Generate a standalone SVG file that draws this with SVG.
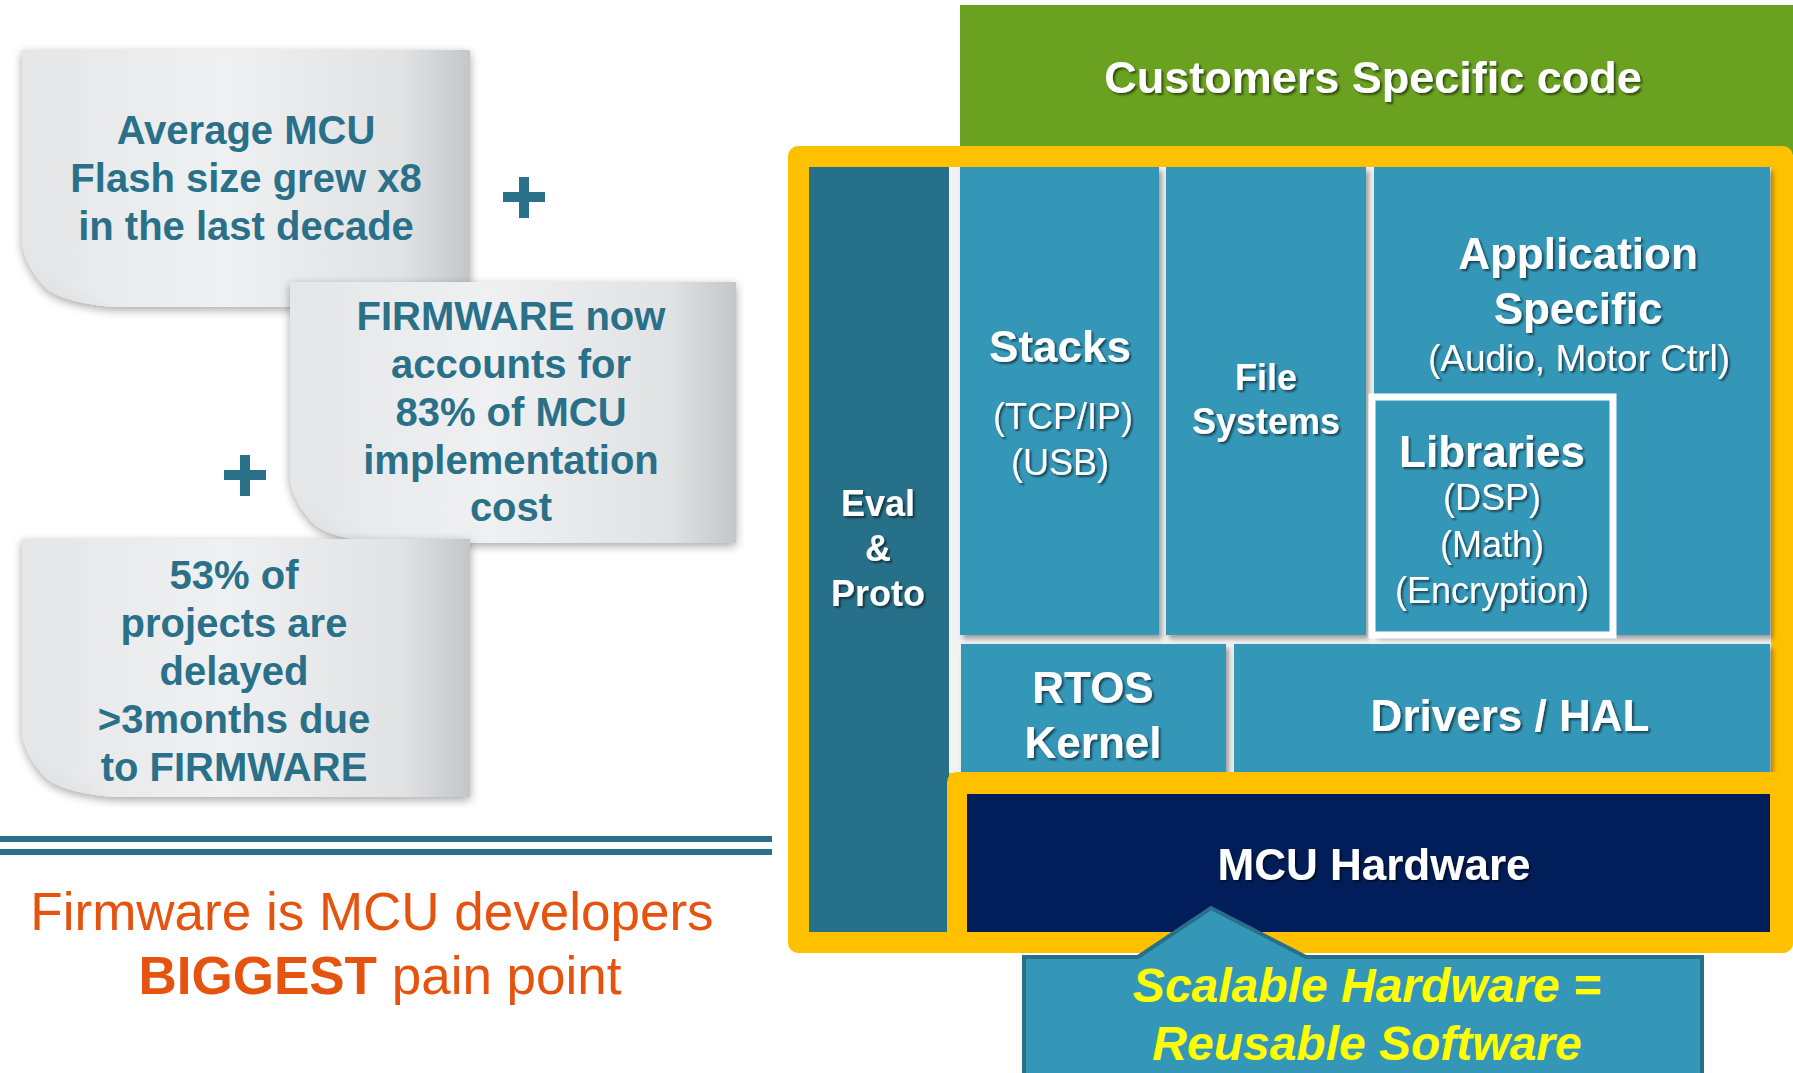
<svg xmlns="http://www.w3.org/2000/svg" width="1793" height="1073" viewBox="0 0 1793 1073">
<defs>
<linearGradient id="paper" x1="0" y1="0" x2="1" y2="0">
<stop offset="0" stop-color="#e4e6e8"/>
<stop offset="0.45" stop-color="#eef0f1"/>
<stop offset="0.85" stop-color="#e0e2e4"/>
<stop offset="1" stop-color="#c4c7ca"/>
</linearGradient>
<linearGradient id="curl" x1="0" y1="1" x2="0.6" y2="0.3">
<stop offset="0" stop-color="#cfd3d6"/>
<stop offset="1" stop-color="#eceef0" stop-opacity="0"/>
</linearGradient>
<filter id="noteShadow" x="-10%" y="-10%" width="120%" height="125%">
<feDropShadow dx="0" dy="3" stdDeviation="5" flood-color="#000" flood-opacity="0.35"/>
</filter>
<filter id="cellShadow" x="-5%" y="-5%" width="115%" height="115%">
<feDropShadow dx="3" dy="4" stdDeviation="2.5" flood-color="#000" flood-opacity="0.35"/>
</filter>
<filter id="txtShadow" x="-10%" y="-20%" width="120%" height="150%">
<feDropShadow dx="2" dy="2" stdDeviation="1.2" flood-color="#000" flood-opacity="0.55"/>
</filter>
<style>
.note{fill:url(#paper);filter:url(#noteShadow)}
.ntxt{font-family:"Liberation Sans",Arial,sans-serif;font-weight:bold;font-size:40px;fill:#2a7088;text-anchor:middle}
.plus{fill:#2a7088}
.cell{fill:#3597b8;filter:url(#cellShadow)}
.wb{font-family:"Liberation Sans",Arial,sans-serif;font-weight:bold;fill:#fff;text-anchor:middle;filter:url(#txtShadow)}
.wr{font-family:"Liberation Sans",Arial,sans-serif;font-weight:normal;fill:#fff;text-anchor:middle;filter:url(#txtShadow)}
.or{font-family:"Liberation Sans",Arial,sans-serif;fill:#e5530f;text-anchor:middle;font-size:53px}
.yl{font-family:"Liberation Sans",Arial,sans-serif;font-weight:bold;font-style:italic;fill:#ffff00;text-anchor:middle;font-size:48px}
</style>
</defs>
<rect width="1793" height="1073" fill="#fff"/>

<!-- Left side: sticky notes -->
<g id="note1">
<path class="note" d="M22,50 H470 V307 H115 C78,304 56,297 46,288 C33,275 25,260 22,244 Z"/>
<path d="M22,244 C25,260 33,275 46,288 C56,297 78,304 115,307 C80,290 48,270 22,244 Z" fill="url(#curl)"/>
<text class="ntxt" x="246" y="144">Average MCU</text>
<text class="ntxt" x="246" y="192">Flash size grew x8</text>
<text class="ntxt" x="246" y="240">in the last decade</text>
</g>
<g id="plus1"><rect class="plus" x="503" y="192" width="42" height="10"/><rect class="plus" x="519" y="177" width="10" height="41"/></g>
<g id="note2">
<path class="note" d="M290,282 H736 V543 H383 C346,540 324,533 314,524 C301,511 293,496 290,480 Z"/>
<path d="M290,480 C293,496 301,511 314,524 C324,533 346,540 383,543 C348,526 316,506 290,480 Z" fill="url(#curl)"/>
<text class="ntxt" x="511" y="330">FIRMWARE now</text>
<text class="ntxt" x="511" y="378">accounts for</text>
<text class="ntxt" x="511" y="426">83% of MCU</text>
<text class="ntxt" x="511" y="474">implementation</text>
<text class="ntxt" x="511" y="521">cost</text>
</g>
<g id="plus2"><rect class="plus" x="224" y="470" width="42" height="10"/><rect class="plus" x="240" y="455" width="10" height="41"/></g>
<g id="note3">
<path class="note" d="M22,539 H470 V797 H115 C78,794 56,787 46,778 C33,765 25,750 22,734 Z"/>
<path d="M22,734 C25,750 33,765 46,778 C56,787 78,794 115,797 C80,780 48,760 22,734 Z" fill="url(#curl)"/>
<text class="ntxt" x="234" y="589">53% of</text>
<text class="ntxt" x="234" y="637">projects are</text>
<text class="ntxt" x="234" y="685">delayed</text>
<text class="ntxt" x="234" y="733">&gt;3months due</text>
<text class="ntxt" x="234" y="781">to FIRMWARE</text>
</g>
<g id="divider">
<rect x="0" y="836" width="772" height="6" fill="#2a7088"/>
<rect x="0" y="849" width="772" height="6" fill="#2a7088"/>
</g>
<g id="painpoint">
<text class="or" x="372" y="930">Firmware is MCU developers</text>
<text class="or" x="380" y="994"><tspan font-weight="bold">BIGGEST</tspan> pain point</text>
</g>

<!-- Right side: software stack -->
<g id="customers">
<rect x="960" y="5" width="833" height="150" fill="#6aa121"/>
<text class="wb" x="1373" y="93" font-size="45">Customers Specific code</text>
</g>
<g id="frame">
<rect x="788" y="146" width="1005" height="807" rx="10" fill="#ffc000"/>
<rect x="809" y="167" width="962" height="606" fill="#f2f2f2"/>
</g>
<g id="eval">
<rect x="809" y="167" width="140" height="765" fill="#277089"/>
<text class="wb" x="878" y="516" font-size="36">Eval</text>
<text class="wb" x="878" y="561" font-size="36">&amp;</text>
<text class="wb" x="878" y="606" font-size="36">Proto</text>
</g>
<g id="stacks">
<rect class="cell" x="960" y="167" width="199" height="468"/>
<text class="wb" x="1060" y="362" font-size="44">Stacks</text>
<text class="wr" x="1063" y="429" font-size="36">(TCP/IP)</text>
<text class="wr" x="1060" y="475" font-size="36">(USB)</text>
</g>
<g id="filesystems">
<rect class="cell" x="1166" y="167" width="200" height="468"/>
<text class="wb" x="1266" y="390" font-size="36">File</text>
<text class="wb" x="1266" y="434" font-size="36">Systems</text>
</g>
<g id="application">
<rect class="cell" x="1374" y="167" width="396" height="468"/>
<text class="wb" x="1578" y="269" font-size="44">Application</text>
<text class="wb" x="1578" y="324" font-size="44">Specific</text>
<text class="wr" x="1579" y="371" font-size="37">(Audio, Motor Ctrl)</text>
</g>
<g id="libraries">
<rect x="1372" y="397" width="241" height="238" fill="#3597b8" stroke="#fff" stroke-width="7"/>
<text class="wb" x="1492" y="467" font-size="44">Libraries</text>
<text class="wr" x="1492" y="510" font-size="36">(DSP)</text>
<text class="wr" x="1492" y="557" font-size="36">(Math)</text>
<text class="wr" x="1492" y="603" font-size="36">(Encryption)</text>
</g>
<g id="rtos">
<rect class="cell" x="961" y="644" width="265" height="130"/>
<text class="wb" x="1093" y="703" font-size="44">RTOS</text>
<text class="wb" x="1093" y="758" font-size="44">Kernel</text>
</g>
<g id="drivers">
<rect class="cell" x="1234" y="644" width="536" height="130"/>
<text class="wb" x="1510" y="731" font-size="44">Drivers / HAL</text>
</g>
<g id="hardware">
<rect x="947" y="772" width="846" height="181" rx="10" fill="#ffc000"/>
<rect x="967" y="794" width="803" height="138" fill="#021e5a"/>
<text class="wb" x="1374" y="880" font-size="44">MCU Hardware</text>
</g>
<g id="callout">
<path d="M1024,957 H1138 L1211,908 L1306,957 H1702 V1080 H1024 Z" fill="#3597b8" stroke="#2a6f89" stroke-width="4"/>
<text class="yl" x="1367" y="1002">Scalable Hardware =</text>
<text class="yl" x="1367" y="1060">Reusable Software</text>
</g>
<g id="connectors"/>
</svg>
